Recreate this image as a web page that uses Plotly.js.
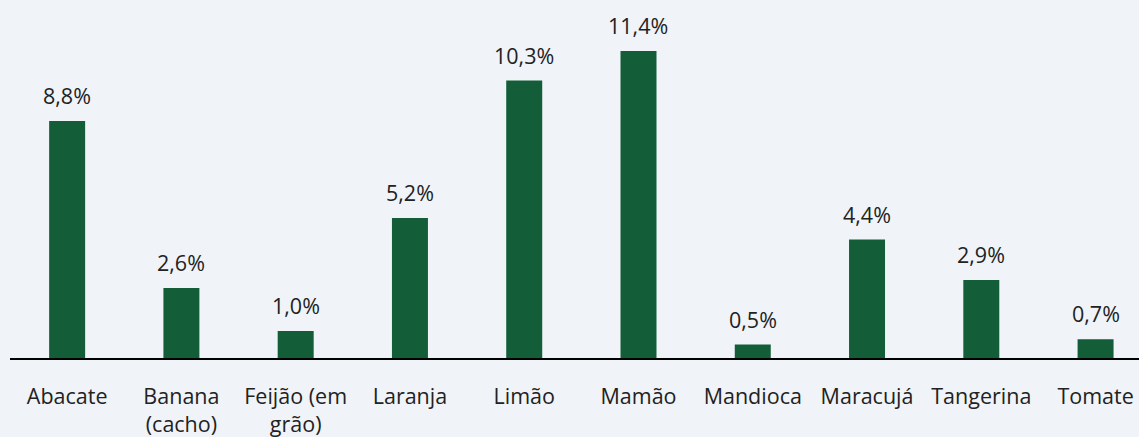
<!DOCTYPE html>
<html>
<head>
<meta charset="utf-8">
<script src="https://cdn.plot.ly/plotly-3.0.1.min.js"></script>
<style>html,body{margin:0;padding:0;background:#f0f4f8;}#chart{width:1139px;height:437px;}</style>
</head>
<body>
<div id="chart"></div>
<script>
const categories = ["Abacate", "Banana<br>(cacho)", "Feijão (em<br>grão)", "Laranja", "Limão", "Mamão", "Mandioca", "Maracujá", "Tangerina", "Tomate"];
const values = [8.8, 2.6, 1.0, 5.2, 10.3, 11.4, 0.5, 4.4, 2.9, 0.7];
const labels = values.map(v => v.toFixed(1).replace('.', ',') + '%');

const FONT = "'Open Sans', 'Noto Sans', sans-serif";
const trace = {
  type: 'bar',
  x: categories,
  y: values,
  marker: {color: '#135e38'},
  width: 0.315,
  hoverinfo: 'none'
};
const annotations = categories.map((c, i) => ({
  x: c, y: values[i], xref: 'x', yref: 'y',
  text: labels[i], showarrow: false, yanchor: 'bottom', yshift: 9,
  font: {family: FONT, size: 21.5, color: '#222222'}
}));
const layout = {
  width: 1139, height: 437,
  margin: {l: 10, r: 0, t: 20, b: 79},
  paper_bgcolor: '#f0f4f8', plot_bgcolor: '#f0f4f8',
  showlegend: false,
  font: {family: FONT, size: 21.5, color: '#222222'},
  xaxis: {
    type: 'category',
    range: [-0.5, 9.38],
    showline: true, linecolor: '#000000', linewidth: 2,
    ticks: 'outside', ticklen: 18, tickcolor: 'rgba(0,0,0,0)',
    tickfont: {family: FONT, size: 21.5, color: '#222222'},
    showgrid: false, zeroline: false, fixedrange: true
  },
  yaxis: {
    range: [0, 12.55], visible: false, showgrid: false, zeroline: false, fixedrange: true
  },
  annotations: annotations
};
Plotly.newPlot('chart', [trace], layout, {displayModeBar: false, staticPlot: true});
</script>
</body>
</html>
